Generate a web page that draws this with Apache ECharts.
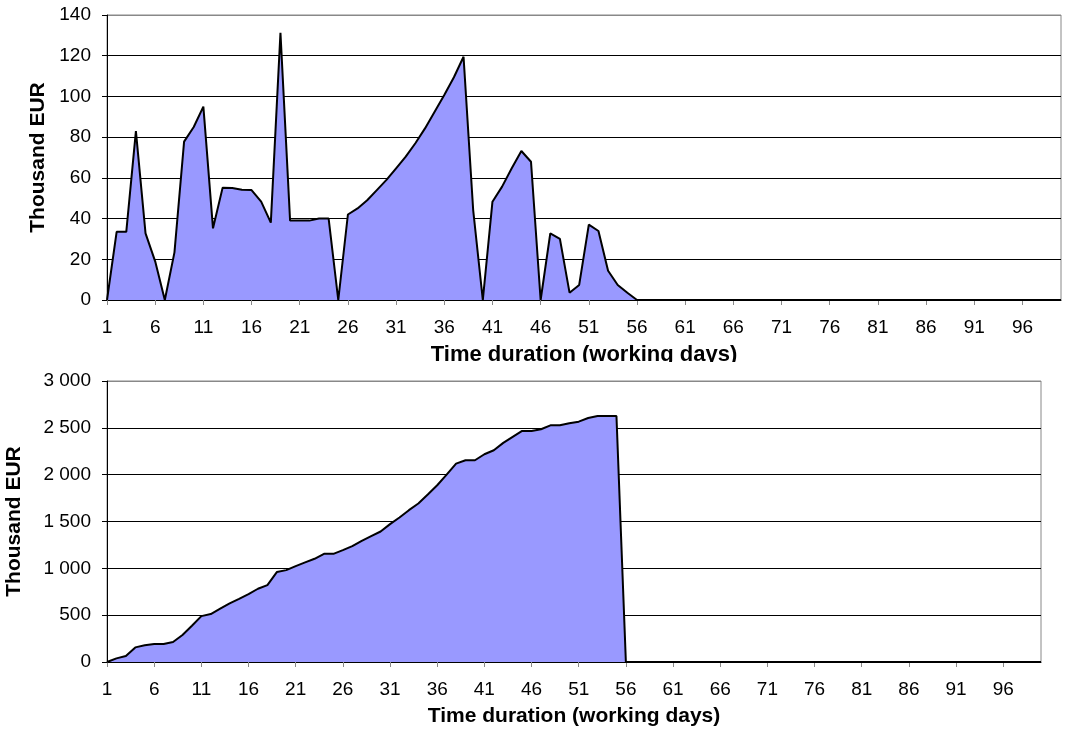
<!DOCTYPE html>
<html>
<head>
<meta charset="utf-8">
<script src="https://cdn.jsdelivr.net/npm/echarts@6/dist/echarts.min.js"></script>
<style>
  html, body { margin: 0; padding: 0; background: #fff; }
  #daily { position: absolute; left: 0; top: 0; width: 1066px; height: 362px; }
  #cumulative { position: absolute; left: 0; top: 362px; width: 1066px; height: 369px; }
</style>
</head>
<body>
<div id="daily"></div>
<div id="cumulative"></div>
<script>
// Working days 1..100
const days = Array.from({ length: 100 }, (_, i) => String(i + 1));

// Daily spending, thousand EUR
const dailySpend = [
  0, 33.5, 33.5, 83, 32.7, 19, 0, 23.4, 77.8, 85,
  95, 35.2, 55.2, 55, 54.2, 54, 48.3, 38, 131.3, 39,
  39, 39, 40, 40, 0, 42, 45, 49, 54, 59,
  64.7, 70.4, 77, 84.3, 92.5, 100.7, 109.4, 119.5, 44.2, 0,
  48.3, 55.7, 64.7, 73.2, 67.9, 0, 32.7, 30, 3.6, 7.4,
  37, 33.9, 14.4, 7.4, 3.6, 0, 0, 0, 0, 0,
  0, 0, 0, 0, 0, 0, 0, 0, 0, 0,
  0, 0, 0, 0, 0, 0, 0, 0, 0, 0,
  0, 0, 0, 0, 0, 0, 0, 0, 0, 0,
  0, 0, 0, 0, 0, 0, 0, 0, 0, 0
];

// Cumulative spending, thousand EUR
const cumulativeSpend = [
  0, 39, 64, 156, 178, 192, 192, 213, 288, 387,
  490, 512, 569, 626, 675, 725, 782, 821, 960, 981,
  1024, 1063, 1102, 1155, 1155, 1194, 1237, 1294, 1344, 1393,
  1472, 1543, 1621, 1692, 1788, 1887, 2001, 2118, 2154, 2154,
  2218, 2261, 2339, 2403, 2467, 2467, 2485, 2527, 2527, 2549,
  2566, 2605, 2627, 2627, 2627, 0, 0, 0, 0, 0,
  0, 0, 0, 0, 0, 0, 0, 0, 0, 0,
  0, 0, 0, 0, 0, 0, 0, 0, 0, 0,
  0, 0, 0, 0, 0, 0, 0, 0, 0, 0,
  0, 0, 0, 0, 0, 0, 0, 0, 0, 0
];

const FONT = 'Liberation Sans, Arial, sans-serif';
const xTitle = 'Time duration (working days)';
const yTitle = 'Thousand EUR';

function gridColors(n) {
  const c = [];
  for (let i = 0; i < n; i++) c.push(i === n - 1 ? '#888' : '#000');
  return c;
}

function buildOption(opts) {
  return {
    animation: false,
    backgroundColor: '#fff',
    grid: {
      left: 107, right: opts.right, top: opts.top, bottom: opts.bottom,
      containLabel: false, outerBoundsMode: 'none',
      show: true, borderColor: '#888', borderWidth: 1
    },
    xAxis: {
      type: 'category',
      data: days,
      boundaryGap: false,
      name: xTitle,
      nameLocation: 'middle',
      nameGap: opts.xNameGap,
      nameTextStyle: { fontFamily: FONT, fontWeight: 'bold', fontSize: opts.xNameSize, color: '#000' },
      axisLine: { lineStyle: { color: '#000', width: 1 } },
      axisTick: { show: true, interval: 4, length: 5, lineStyle: { color: '#888' } },
      axisLabel: { interval: 4, margin: 18, fontFamily: FONT, fontSize: 19, color: '#000' },
      splitLine: { show: false }
    },
    yAxis: {
      type: 'value',
      min: 0,
      max: opts.max,
      interval: opts.interval,
      name: yTitle,
      nameLocation: 'middle',
      nameGap: opts.yNameGap,
      nameTextStyle: { fontFamily: FONT, fontWeight: 'bold', fontSize: 21, color: '#000' },
      axisLine: { show: true, lineStyle: { color: '#000', width: 1 } },
      axisTick: { show: true, length: 5, lineStyle: { color: '#000' } },
      axisLabel: {
        margin: 16, fontFamily: FONT, fontSize: 19, color: '#000',
        formatter: v => String(v).replace(/\B(?=(\d{3})+(?!\d))/g, ' ')
      },
      splitLine: { show: true, lineStyle: { color: gridColors(opts.max / opts.interval + 1), width: 1 } }
    },
    series: [{
      type: 'line',
      data: opts.data,
      symbol: 'none',
      lineStyle: { color: '#000', width: 2 },
      areaStyle: { color: '#9999ff', opacity: 1 }
    }]
  };
}

const dailyChart = echarts.init(document.getElementById('daily'), null, { renderer: 'canvas' });
dailyChart.setOption(buildOption({
  right: 5, top: 15, bottom: 62, max: 140, interval: 20,
  data: dailySpend, xNameGap: 44, xNameSize: 22, yNameGap: 56
}));

const cumulativeChart = echarts.init(document.getElementById('cumulative'), null, { renderer: 'canvas' });
cumulativeChart.setOption(buildOption({
  right: 25, top: 19, bottom: 69, max: 3000, interval: 500,
  data: cumulativeSpend, xNameGap: 44, xNameSize: 21, yNameGap: 82
}));
</script>
</body>
</html>
